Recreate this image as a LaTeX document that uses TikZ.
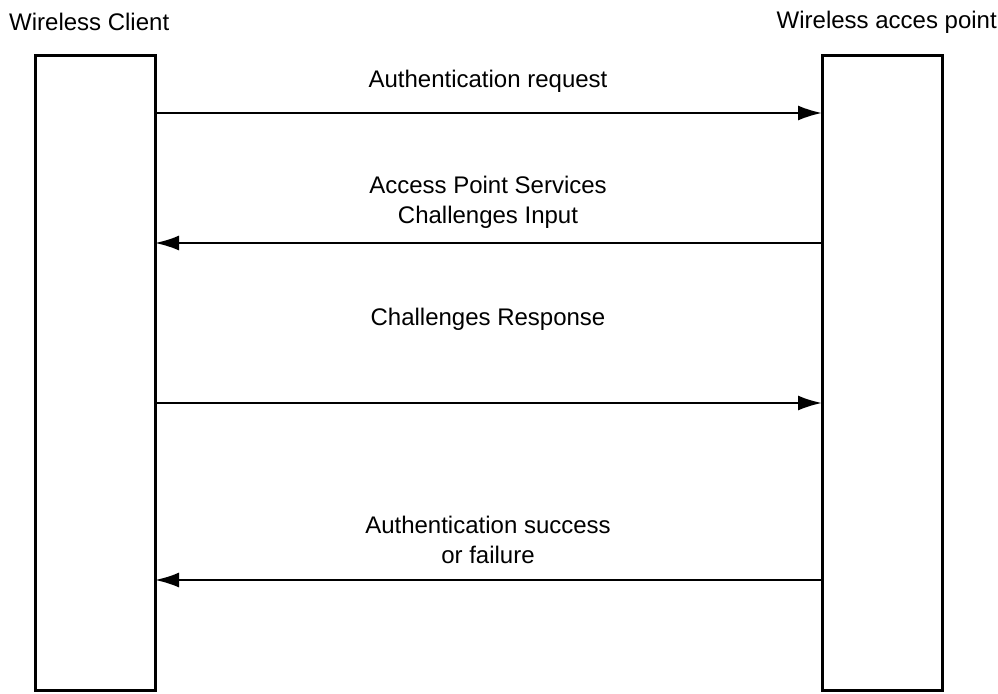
\documentclass[tikz,border=0pt]{standalone}
\usepackage{fontspec}
\setmainfont{Liberation Sans}
\usetikzlibrary{arrows.meta}

\tikzset{
	station/.style={draw,line width=3pt,minimum width=120pt,minimum height=634pt,inner sep=0pt},
	msg/.style={line width=2.2pt,shorten >=-1.5pt,-{Latex[length=24pt,width=15pt]}},
	lbl/.style={font=\fontsize{24}{30}\selectfont,align=center,inner sep=0pt}
}

\begin{document}
\begin{tikzpicture}[x=1pt,y=-1pt]
\useasboundingbox (0,0) rectangle (998,693);

\node[station] (client) at (95,373) {};
\node[station] (ap) at (882,373) {};

\node[lbl,anchor=west] (clientname) at (9,22) {Wireless Client};
\node[lbl,anchor=east] (apname) at (997,22) {Wireless acces point};

% ends of the messages on the two boxes
\coordinate (c1) at (client.east |- 0,113);
\coordinate (c2) at (client.east |- 0,243);
\coordinate (c3) at (client.east |- 0,403);
\coordinate (c4) at (client.east |- 0,580);
\coordinate (a1) at (ap.west |- 0,113);
\coordinate (a2) at (ap.west |- 0,243);
\coordinate (a3) at (ap.west |- 0,403);
\coordinate (a4) at (ap.west |- 0,580);

\draw[msg] (c1) -- (a1);
\draw[msg] (a2) -- (c2);
\draw[msg] (c3) -- (a3);
\draw[msg] (a4) -- (c4);

\node[lbl] (m1) at (488,81) {Authentication request};
\node[lbl] (m2) at (488,202) {Access Point Services\\Challenges Input};
\node[lbl] (m3) at (488,319) {Challenges Response};
\node[lbl] (m4) at (488,540) {Authentication success\\or failure};

\end{tikzpicture}
\end{document}
